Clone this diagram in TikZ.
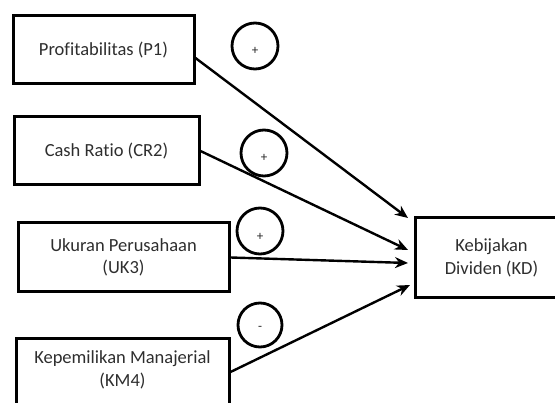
\documentclass[tikz,border=0pt]{standalone}
\usepackage{fontspec}
\setmainfont{Carlito}[Ligatures=NoCommon]
\usetikzlibrary{arrows.meta,calc}
\begin{document}
\begin{tikzpicture}[x=1pt,y=-1pt,
  box/.style={draw, line width=3pt, inner sep=0pt, align=center},
  txt/.style={align=center, inner sep=0pt, font=\fontsize{18.5}{22.5}\selectfont, text=black!82},
  sign/.style={draw, circle, line width=2.8pt, minimum size=46pt, inner sep=0pt},
  signtxt/.style={font=\fontsize{13}{15}\selectfont, text=black!85, inner sep=0pt},
  arr/.style={line width=2.4pt, -{Stealth[length=13pt,width=11pt]}}]
\useasboundingbox (0,0) rectangle (555,403);
% source boxes
\node[box, txt, minimum width=181pt, minimum height=68pt] (p1) at (103.5,50) {Profitabilitas (P1)};
\node[box, txt, minimum width=185pt, minimum height=68pt] (cr2) at (106.5,151) {Cash Ratio (CR2)};
\node[box, txt, minimum width=211pt, minimum height=69pt] (uk3) at (123.5,257.5) {Ukuran Perusahaan\\(UK3)};
\node[box, minimum width=213pt, minimum height=100pt, anchor=north] (km4) at (122.5,337) {};
\node[txt] (km4t) at (122.5,370) {Kepemilikan Manajerial\\(KM4)};
% target box
\node[box, txt, minimum width=152pt, minimum height=80pt, anchor=west] (kd) at (414,258) {Kebijakan\\Dividen (KD)};
% sign circles
\node[sign, label={[signtxt, yshift=-5pt]center:+}] (c1) at (255,46) {};
\node[sign, label={[signtxt, yshift=-5pt]center:+}] (c2) at (264,153) {};
\node[sign, label={[signtxt, yshift=-6pt]center:+}] (c3) at (260,231) {};
\node[sign, minimum size=44pt, label={[signtxt, yshift=-3pt]center:-}] (c4) at (260,325) {};
% connector end points
\coordinate (s1) at ($(p1.east)+(0,8)$);
\coordinate (s4) at ($(km4.north east)+(0,35)$);
\coordinate (e1) at ($(kd.west)+(-6,-40)$);
\coordinate (e2) at ($(kd.west)+(-6,-8)$);
\coordinate (e3) at ($(kd.west)+(-6,5)$);
\coordinate (e4) at ($(kd.west)+(-4,27)$);
\draw[arr] (s1) -- (e1);
\draw[arr] (cr2.east) -- (e2);
\draw[arr] (uk3.east) -- (e3);
\draw[arr] (s4) -- (e4);
\end{tikzpicture}
\end{document}
